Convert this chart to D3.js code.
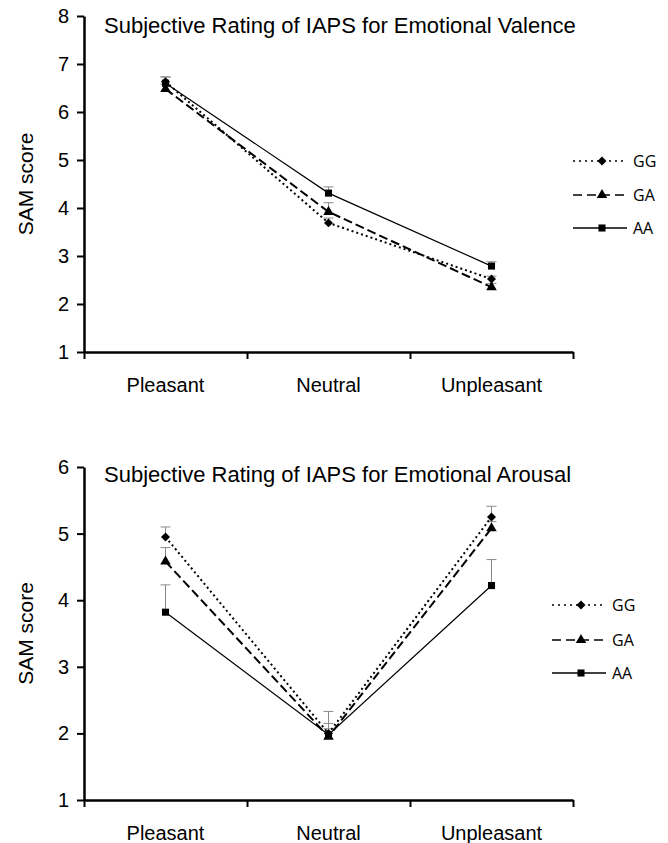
<!DOCTYPE html>
<html>
<head>
<meta charset="utf-8">
<script src="https://cdn.jsdelivr.net/npm/d3@7"></script>
<style>
  body { margin: 0; background: #fff; }
  svg { display: block; font-family: "Liberation Sans", Arial, sans-serif; }
  .axis path, .axis line { stroke: #000; }
  .axis text { fill: #000; font-size: 20px; font-family: "Liberation Sans", Arial, sans-serif; }
  .legendText { font-family: "Open Sans", sans-serif; font-size: 16px; }
</style>
</head>
<body>
<svg id="chart" width="668" height="843"></svg>
<script>
// categories + groups
const categories = ["Pleasant", "Neutral", "Unpleasant"];
const groups = ["GG", "GA", "AA"];

// valence (SAM score) means + upper error
const valenceGG = [6.63, 3.69, 2.52];
const valenceGA = [6.48, 3.92, 2.35];
const valenceAA = [6.60, 4.31, 2.79];
const valenceErrGG = [0.10, 0.10, 0.06];
const valenceErrGA = [0.10, 0.19, 0.08];
const valenceErrAA = [0.13, 0.13, 0.09];
const valenceTicks = [1, 2, 3, 4, 5, 6, 7, 8];

// arousal (SAM score) means + upper error
const arousalGG = [4.95, 2.00, 5.25];
const arousalGA = [4.58, 1.95, 5.08];
const arousalAA = [3.82, 1.98, 4.22];
const arousalErrGG = [0.15, 0.15, 0.16];
const arousalErrGA = [0.21, 0.12, 0.10];
const arousalErrAA = [0.41, 0.35, 0.39];
const arousalTicks = [1, 2, 3, 4, 5, 6];

let svg = d3.select("#chart");

// line style + marker per group
let styles = {
    GG: { dash: "2,3", width: 2, legendDash: "2,4", legendWidth: 1.3, symbol: "diamond" },
    GA: { dash: "9,4", width: 2, legendDash: "9,5", legendWidth: 1.3, symbol: "triangle" },
    AA: { dash: null, width: 1.2, legendDash: null, legendWidth: 1.3, symbol: "square" }
};

function symbolPath(name) {
    if (name == "diamond") return d3.symbol().type(d3.symbolSquare).size(40)();
    if (name == "triangle") return d3.symbol().type(d3.symbolTriangle).size(48)();
    return d3.symbol().type(d3.symbolSquare).size(50)();
}

function drawPanel(p) {
    let g = svg.append("g");
    let x = d3.scaleBand().domain(categories).range([p.left, p.right]);
    let edges = d3.scaleLinear().domain([0, categories.length]).range([p.left, p.right]);
    let y = d3.scaleLinear().domain([p.ticks[0], p.ticks[p.ticks.length - 1]]).range([p.bottom, p.top]);

    //Titel
    g.append("text")
        .attr("x", p.left + 20)
        .attr("y", p.titleY)
        .attr("font-size", 22)
        .text(p.title);

    // y label
    g.append("text")
        .attr("transform", "translate(33," + ((p.top + p.bottom) / 2) + ") rotate(-90)")
        .attr("text-anchor", "middle")
        .attr("font-size", 21)
        .text("SAM score");

    //x achse: ticks an den Grenzen
    let xAxis = g.append("g")
        .attr("class", "axis")
        .attr("transform", "translate(0," + p.bottom + ")")
        .call(d3.axisBottom(edges).tickValues(d3.range(categories.length + 1)).tickFormat("").tickSize(7).tickSizeOuter(0));
    xAxis.select(".domain").attr("stroke-width", 2.5);
    xAxis.selectAll(".tick line").attr("stroke-width", 2);

    g.selectAll(".catLabel").data(categories).join("text")
        .attr("class", "catLabel")
        .attr("x", d => x(d) + x.bandwidth() / 2)
        .attr("y", p.bottom + 40)
        .attr("text-anchor", "middle")
        .attr("font-size", 20)
        .text(d => d);

    let yAxis = g.append("g")
        .attr("class", "axis")
        .attr("transform", "translate(" + p.left + ",0)")
        .call(d3.axisLeft(y).tickValues(p.ticks).tickFormat(d3.format("d")).tickSize(7).tickPadding(8).tickSizeOuter(0));
    yAxis.select(".domain").attr("stroke-width", 2.5);
    yAxis.selectAll(".tick line").attr("stroke-width", 2);

    let cx = (d, i) => x(categories[i]) + x.bandwidth() / 2;

    // error bars (nur nach oben)
    p.series.forEach(s => {
        let eb = g.append("g").attr("stroke", "#8a8a8a").attr("stroke-width", 1);
        s.values.forEach((v, i) => {
            let px = cx(v, i);
            let top = y(v + s.err[i]);
            eb.append("line").attr("x1", px).attr("x2", px).attr("y1", y(v)).attr("y2", top);
            eb.append("line").attr("x1", px - 5).attr("x2", px + 5).attr("y1", top).attr("y2", top);
        });
    });

    // lines
    let line = d3.line().x((d, i) => cx(d, i)).y(d => y(d));
    p.series.slice().reverse().forEach(s => {
        let st = styles[s.name];
        g.append("path")
            .datum(s.values)
            .attr("d", line)
            .attr("fill", "none")
            .attr("stroke", "#000")
            .attr("stroke-width", st.width)
            .attr("stroke-dasharray", st.dash);
    });

    // markers
    p.series.slice().reverse().forEach(s => {
        let st = styles[s.name];
        g.selectAll(null).data(s.values).join("path")
            .attr("d", symbolPath(st.symbol))
            .attr("transform", (d, i) => "translate(" + cx(d, i) + "," + y(d) + ")" + (st.symbol == "diamond" ? " rotate(45)" : ""))
            .attr("fill", "#000");
    });

    //Legende
    let leg = g.append("g");
    p.series.forEach((s, i) => {
        let st = styles[s.name];
        let ly = p.legendY[i];
        leg.append("line")
            .attr("x1", p.legendX)
            .attr("x2", p.legendX + 54)
            .attr("y1", ly)
            .attr("y2", ly)
            .attr("stroke", "#000")
            .attr("stroke-width", st.legendWidth)
            .attr("stroke-dasharray", st.legendDash);
        leg.append("path")
            .attr("d", symbolPath(st.symbol))
            .attr("transform", "translate(" + (p.legendX + 29) + "," + ly + ")" + (st.symbol == "diamond" ? " rotate(45)" : ""))
            .attr("fill", "#000");
        leg.append("text")
            .attr("class", "legendText")
            .attr("x", p.legendX + 60)
            .attr("y", ly)
            .attr("dy", "0.35em")
            .text(s.name);
    });
}

drawPanel({
    title: "Subjective Rating of IAPS for Emotional Valence",
    left: 84, right: 573, top: 16, bottom: 352, titleY: 33,
    ticks: valenceTicks,
    series: [
        { name: "GG", values: valenceGG, err: valenceErrGG },
        { name: "GA", values: valenceGA, err: valenceErrGA },
        { name: "AA", values: valenceAA, err: valenceErrAA }
    ],
    legendX: 573, legendY: [161, 195, 228]
});

drawPanel({
    title: "Subjective Rating of IAPS for Emotional Arousal",
    left: 84, right: 573, top: 467, bottom: 800, titleY: 482,
    ticks: arousalTicks,
    series: [
        { name: "GG", values: arousalGG, err: arousalErrGG },
        { name: "GA", values: arousalGA, err: arousalErrGA },
        { name: "AA", values: arousalAA, err: arousalErrAA }
    ],
    legendX: 552, legendY: [605, 640, 673]
});
</script>
</body>
</html>
